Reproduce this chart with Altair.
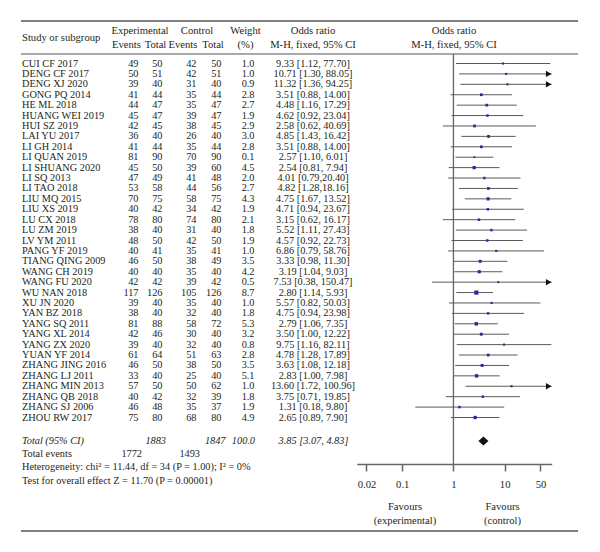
import altair as alt
import pandas as pd

# ---------------- data ----------------
studies = ["CUI CF 2017", "DENG CF 2017", "DENG XJ 2020", "GONG PQ 2014", "HE ML 2018",
           "HUANG WEI 2019", "HUI SZ 2019", "LAI YU 2017", "LI GH 2014", "LI QUAN 2019",
           "LI SHUANG 2020", "LI SQ 2013", "LI TAO 2018", "LIU MQ 2015", "LIU XS 2019",
           "LU CX 2018", "LU ZM 2019", "LV YM 2011", "PANG YF 2019", "TIANG QING 2009",
           "WANG CH 2019", "WANG FU 2020", "WU NAN 2018", "XU JN 2020", "YAN BZ 2018",
           "YANG SQ 2011", "YANG XL 2014", "YANG ZX 2020", "YUAN YF 2014", "ZHANG JING 2016",
           "ZHANG LJ 2011", "ZHANG MIN 2013", "ZHANG QB 2018", "ZHANG SJ 2006", "ZHOU RW 2017"]
exp_events = [49, 50, 39, 41, 44, 45, 42, 36, 41, 81, 45, 47, 53, 70, 40, 78, 38, 48, 40, 46,
              40, 42, 117, 39, 38, 81, 42, 39, 61, 46, 33, 57, 40, 46, 75]
exp_total = [50, 51, 40, 44, 47, 47, 45, 40, 44, 90, 50, 49, 58, 75, 42, 80, 40, 50, 41, 50,
             40, 42, 126, 40, 40, 88, 46, 40, 64, 50, 40, 50, 42, 48, 80]
ctl_events = [42, 42, 31, 35, 35, 39, 38, 26, 35, 70, 39, 41, 44, 58, 34, 74, 31, 42, 35, 38,
              35, 39, 105, 35, 32, 58, 30, 32, 51, 38, 25, 50, 32, 35, 68]
ctl_total = [50, 51, 40, 44, 47, 47, 45, 40, 44, 90, 60, 48, 56, 75, 42, 80, 40, 50, 41, 49,
             40, 42, 126, 40, 40, 72, 40, 40, 63, 50, 40, 62, 39, 37, 80]
weights = [1.0, 1.0, 0.9, 2.8, 2.7, 1.9, 2.9, 3.0, 2.8, 0.1, 4.5, 2.0, 2.7, 4.3, 1.9, 2.1, 1.8,
           1.9, 1.0, 3.5, 4.2, 0.5, 8.7, 1.0, 1.8, 5.3, 3.2, 0.8, 2.8, 3.5, 5.1, 1.0, 1.8, 1.9, 4.9]
odds = [9.33, 10.71, 11.32, 3.51, 4.48, 4.62, 2.58, 4.85, 3.51, 2.57, 2.54, 4.01, 4.82, 4.75,
        4.71, 3.15, 5.52, 4.57, 6.86, 3.33, 3.19, 7.53, 2.80, 5.57, 4.75, 2.79, 3.50, 9.75,
        4.78, 3.63, 2.83, 13.60, 3.75, 1.31, 2.65]
ci_low = [1.12, 1.30, 1.36, 0.88, 1.16, 0.92, 0.62, 1.43, 0.88, 1.10, 0.81, 0.79, 1.28, 1.67,
          0.94, 0.62, 1.11, 0.92, 0.79, 0.98, 1.04, 0.38, 1.14, 0.82, 0.94, 1.06, 1.00, 1.16,
          1.28, 1.08, 1.00, 1.72, 0.71, 0.18, 0.89]
ci_high = [77.70, 88.05, 94.25, 14.00, 17.29, 23.04, 40.69, 16.42, 14.00, 6.01, 7.94, 20.40,
           18.16, 13.52, 23.67, 16.17, 27.43, 22.73, 58.76, 11.30, 9.03, 150.47, 5.93, 50.03,
           23.98, 7.35, 12.22, 82.11, 17.89, 12.18, 7.98, 100.96, 19.85, 9.80, 7.90]
no_space_ci = ["LI SQ 2013", "LI TAO 2018"]

total_exp, total_ctl, total_weight = 1883, 1847, 100.0
total_or, total_lo, total_hi = 3.85, 3.07, 4.83
events_exp, events_ctl = 1772, 1493
het_text = "Heterogeneity: chi\u00b2 = 11.44, df = 34 (P = 1.00); I\u00b2 = 0%"
test_text = "Test for overall effect Z = 11.70 (P = 0.00001)"
tick_values = [0.02, 0.1, 1, 10, 50]
null_value = [1]

df = pd.DataFrame({
    "study": studies, "e_ev": exp_events, "e_tot": exp_total,
    "c_ev": ctl_events, "c_tot": ctl_total, "weight": weights,
    "or": odds, "lo": ci_low, "hi": ci_high,
})
df["row"] = range(len(df))
df["w_label"] = [f"{w:.1f}" for w in weights]
df["ci_label"] = [
    f"{o:.2f} [{l:.2f},{'' if s in no_space_ci else ' '}{h:.2f}]"
    for s, o, l, h in zip(studies, odds, ci_low, ci_high)
]
diamond = pd.DataFrame({"x": [total_lo, total_or, total_hi],
                        "top": [0, 1, 0], "bot": [0, -1, 0]})
null_df = pd.DataFrame({"v": null_value})

# ---------------- layout / style ----------------
OFF = 8
W, H = 584, 536


def px(v):
    return v - OFF


FONT = "Liberation Serif"
FS = 10.3
TXT = "#231f20"
LINE = "#555555"
BLUE = "#2e2a9c"
X_MIN, X_MAX = 0.0129, 83

row_scale = alt.Scale(domain=[0, 34], range=[px(63.5), px(417.5)], nice=False, zero=False)
x_scale = alt.Scale(type="log", domain=[X_MIN, X_MAX], range=[px(356.7), px(551.7)],
                    clamp=True, nice=False)
AX = alt.Axis(values=tick_values, format="~g", orient="bottom", offset=px(464) - H,
              tickSize=7, tickWidth=1.5, tickColor="#666666", domainColor="#666666",
              domainWidth=1.5, labelFont=FONT, labelFontSize=10.6, labelColor=TXT,
              labelPadding=8, grid=False, title=None, labelFlush=False, labelOverlap=False)
Yrow = alt.Y("row:Q", scale=row_scale, axis=None)

base = alt.Chart(df)
blank = alt.Data(values=[{}])


def col_text(field, x, align, fmt=None):
    t = alt.Text(f"{field}:Q", format=fmt) if fmt else alt.Text(f"{field}:N")
    return base.mark_text(align=align, baseline="middle", font=FONT, fontSize=FS,
                          color=TXT).encode(x=alt.value(px(x)), y=Yrow, text=t)


def label(text, x, y, align="left", italic=False, lh=None, fs=FS):
    kw = dict(align=align, baseline="middle", font=FONT, fontSize=fs, color=TXT, text=text)
    if italic:
        kw["fontStyle"] = "italic"
    if lh:
        kw["lineHeight"] = lh
    return alt.Chart(blank).mark_text(**kw).encode(x=alt.value(px(x)), y=alt.value(px(y)))


def hline(y, width):
    return alt.Chart(blank).mark_rule(color=LINE, strokeWidth=width).encode(
        x=alt.value(px(21)), x2=alt.value(px(578)), y=alt.value(px(y)))


HFS = 10.6
layers = [
    hline(21, 1.5), hline(54, 1.0), hline(531, 1.5),
    # headers
    label("Study or subgroup", 22, 38, fs=HFS),
    label("Experimental", 140, 31, "center", fs=HFS),
    label("Control", 197, 31, "center", fs=HFS),
    label("Weight", 245.5, 31, "center", fs=HFS),
    label("Events", 126.5, 45, "center", fs=HFS),
    label("Total", 155.5, 45, "center", fs=HFS),
    label("Events", 183, 45, "center", fs=HFS),
    label("Total", 213, 45, "center", fs=HFS),
    label("(%)", 245.5, 45, "center", fs=HFS),
    label("Odds ratio", 313, 31, "center", fs=HFS),
    label("M-H, fixed, 95% CI", 313, 45, "center", fs=HFS),
    label("Odds ratio", 454, 31, "center", fs=HFS),
    label("M-H, fixed, 95% CI", 454, 45, "center", fs=HFS),
    # table columns
    col_text("study", 22, "left"),
    col_text("e_ev", 138.5, "right", "d"),
    col_text("e_tot", 162.5, "right", "d"),
    col_text("c_ev", 196.5, "right", "d"),
    col_text("c_tot", 221.5, "right", "d"),
    col_text("w_label", 254.5, "right"),
    col_text("ci_label", 313, "center"),
    # totals
    label("Total (95% CI)", 22, 441, italic=True),
    label(f"{total_exp}", 166, 441, "right", italic=True),
    label(f"{total_ctl}", 225.5, 441, "right", italic=True),
    label(f"{total_weight:.1f}", 255, 441, "right", italic=True),
    label(f"{total_or:.2f} [{total_lo:.2f}, {total_hi:.2f}]", 313.5, 441, "center", italic=True),
    label("Total events", 22, 454),
    label(f"{events_exp}", 142, 454, "right"),
    label(f"{events_ctl}", 200, 454, "right"),
    label(het_text, 22, 467),
    label(test_text, 22, 480.5),
    label(["Favours", "(experimental)"], 405, 507, "center", lh=13.5, fs=HFS),
    label(["Favours", "(control)"], 502.5, 507, "center", lh=13.5, fs=HFS),
    # forest plot
    alt.Chart(null_df).mark_rule(color="#666666", strokeWidth=1.3).encode(
        x=alt.X("v:Q", scale=x_scale, axis=AX), y=alt.value(px(54)), y2=alt.value(px(464))),
    base.mark_rule(color="#5a5a5a", strokeWidth=1).encode(
        x=alt.X("lo:Q", scale=x_scale, axis=AX), x2="hi:Q", y=Yrow),
    base.mark_square(filled=True, color=BLUE, opacity=1).encode(
        x=alt.X("or:Q", scale=x_scale, axis=AX), y=Yrow,
        size=alt.Size("weight:Q", scale=alt.Scale(domain=[0, 9], range=[3, 18]), legend=None)),
    base.transform_filter(alt.datum.hi > X_MAX).mark_point(
        shape="triangle-right", filled=True, color="#111111", size=40, opacity=1, xOffset=-3
    ).encode(x=alt.X("hi:Q", scale=x_scale, axis=AX), y=Yrow),
    alt.Chart(diamond).mark_area(color="#111111", opacity=1).encode(
        x=alt.X("x:Q", scale=x_scale, axis=AX),
        y=alt.Y("top:Q", scale=alt.Scale(domain=[-1, 1], range=[px(441) + 4.4, px(441) - 4.4]),
                axis=None),
        y2="bot:Q"),
]

chart = alt.layer(*layers).resolve_scale(y="independent").properties(
    width=W, height=H, padding=0, autosize=alt.AutoSizeParams(type="none")
).configure_view(strokeWidth=0)

chart.save("out.html", embed_options={"renderer": "svg", "actions": False})
